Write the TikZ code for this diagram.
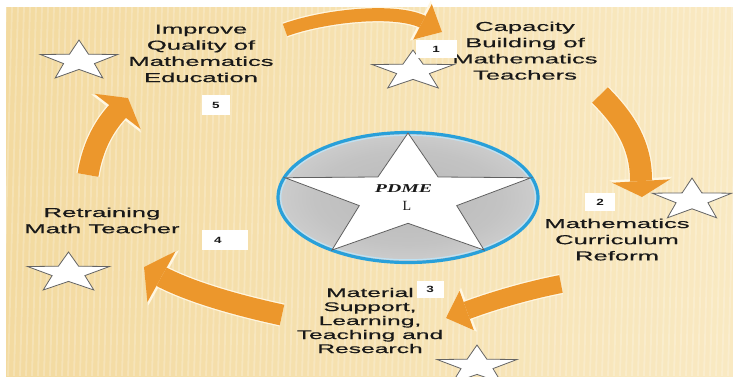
\documentclass[tikz,border=0pt]{standalone}
\usepackage{fontspec}
\usepackage{graphicx}
\setmainfont{Liberation Sans}
\newfontfamily\lblfont[FakeBold=0.35]{Liberation Sans}
\newfontfamily\serifL{Liberation Serif}
\usetikzlibrary{arrows.meta}
\definecolor{bgA}{RGB}{243,218,160}
\definecolor{bgB}{RGB}{249,233,194}
\definecolor{arrOrange}{RGB}{236,151,44}
\definecolor{arrRim}{RGB}{255,247,226}
\definecolor{ringBlue}{RGB}{40,160,218}
\definecolor{starEdge}{RGB}{100,100,100}
\definecolor{txt}{RGB}{25,25,25}
\pgfdeclareradialshading{silver}{\pgfpoint{0bp}{0bp}}{color(0bp)=(gray!55); color(18bp)=(gray!47); color(32bp)=(gray!32); color(44bp)=(gray!12); color(50bp)=(gray!4)}
\newcommand\StarAt[5]{%
  \begin{scope}[shift={(#1,#2)}, xscale=#5]
    \draw[starsty] (-90:#3) -- (-54:#4) -- (-18:#3) -- (18:#4) -- (54:#3) -- (90:#4) -- (126:#3) -- (162:#4) -- (198:#3) -- (234:#4) -- cycle;
  \end{scope}}
\newcommand\StretchText[1]{\scalebox{1.97}[1]{\begin{tabular}[t]{@{}c@{}}#1\end{tabular}}}
\tikzset{
  starsty/.style={fill=white, draw=starEdge, line width=0.8pt, line join=miter},
  lbl/.style={inner sep=0pt, anchor=base, text=txt, font=\lblfont\fontsize{13}{16.2}\selectfont},
  lblsm/.style={inner sep=0pt, anchor=base, text=txt, font=\lblfont\fontsize{12.5}{14}\selectfont},
  numbox/.style={fill=white, inner sep=0pt, minimum height=18pt, text=txt, font=\fontsize{9}{9}\selectfont\bfseries},
  flow/.style n args={3}{draw=arrOrange, line width=#1, -{Triangle[length=#2, width=#3, line width=0pt]}},
  rim/.style n args={3}{draw=arrRim, line width=#1, -{Triangle[length=#2, width=#3, line width=0pt]}},
}
\begin{document}
\begin{tikzpicture}[x=1pt,y=-1pt]
\useasboundingbox (0,0) rectangle (733,376);
% background
\fill[white] (0,0) rectangle (733,376);
\shade[left color=bgA, right color=bgB] (6,7) rectangle (733,376);
\begin{scope}
  \clip (6,7) rectangle (733,376);
  \foreach \i in {0,...,128} \draw[white, opacity=0.22, line width=1.8pt] ({\i*6}, 7) -- ({\i*6-10}, 376);
\end{scope}
% central emblem
\shade[shading=silver] (408,197.5) ellipse [x radius=130, y radius=65];
\draw[ringBlue!30, line width=1.2pt] (408,197.5) ellipse [x radius=127.3, y radius=62.3];
\draw[ringBlue, line width=3.2pt] (408,197.5) ellipse [x radius=130, y radius=65];
\begin{scope}[shift={(408,197.7)}, xscale=2]
  \draw[fill=white, draw=gray!75!black, line width=0.8pt] (-90:64.7) -- (-54:25.6) -- (-18:64.7) -- (18:25.6) -- (54:64.7) -- (90:25.6) -- (126:64.7) -- (162:25.6) -- (198:64.7) -- (234:25.6) -- cycle;
\end{scope}
\node[inner sep=0pt, anchor=base, text=txt] (pdme) at (403.5,192) {\scalebox{1.65}[1]{\serifL\fontsize{12}{12}\selectfont\bfseries\itshape PDME}};
\node[inner sep=0pt, anchor=base, text=txt] (cl) at (407,210) {\serifL\fontsize{14}{14}\selectfont L};
% arrows
\coordinate (a1s) at (285,30); \coordinate (a1b) at (421,21); \coordinate (a1e) at (442,32);
\coordinate (a2s) at (600,95); \coordinate (a2b) at (641,180); \coordinate (a2e) at (642,197);
\coordinate (a3s) at (561,284); \coordinate (a3b) at (468,310); \coordinate (a3e) at (446,318);
\coordinate (a4s) at (282,315); \coordinate (a4b) at (162,277); \coordinate (a4e) at (144,267);
\coordinate (a5s) at (88,175); \coordinate (a5b) at (118,111); \coordinate (a5e) at (128,98);
\draw[rim={15.5pt}{24.5pt}{45pt}] (a1s) .. controls (320,17) and (390,8) .. (a1b) -- (a1e);
\draw[flow={13pt}{22pt}{40pt}] (a1s) .. controls (320,17) and (390,8) .. (a1b) -- (a1e);
\draw[rim={24.5pt}{18.5pt}{63pt}] (a2s) .. controls (625,120) and (641,145) .. (a2b) -- (a2e);
\draw[flow={22pt}{16pt}{58pt}] (a2s) .. controls (625,120) and (641,145) .. (a2b) -- (a2e);
\draw[rim={20.5pt}{24.5pt}{47pt}] (a3s) .. controls (530,290) and (495,300) .. (a3b) -- (a3e);
\draw[flow={18pt}{22pt}{42pt}] (a3s) .. controls (530,290) and (495,300) .. (a3b) -- (a3e);
\draw[rim={23.5pt}{22.5pt}{63pt}] (a4s) .. controls (245,307) and (195,294) .. (a4b) -- (a4e);
\draw[flow={21pt}{20pt}{58pt}] (a4s) .. controls (245,307) and (195,294) .. (a4b) -- (a4e);
\draw[rim={23.5pt}{19.5pt}{63pt}] (a5s) .. controls (92,150) and (102,128) .. (a5b) -- (a5e);
\draw[flow={21pt}{17pt}{58pt}] (a5s) .. controls (92,150) and (102,128) .. (a5b) -- (a5e);
% texts
\node[lbl] (t5) at (201,33.5) {\StretchText{Improve\\Quality of\\Mathematics\\Education}};
\node[lbl] (t1) at (525,31) {\StretchText{Capacity\\Building of\\Mathematics\\Teachers}};
\node[lbl] (t2) at (617,228) {\StretchText{Mathematics\\Curriculum\\Reform}};
\node[lblsm] (t3) at (370,297) {\StretchText{Material\\Support,\\Learning,\\Teaching and\\Research}};
\node[lbl] (t4) at (102,217) {\StretchText{Retraining\\Math Teacher}};
% stars
\StarAt{79}{61}{21}{8.4}{1.93}
\StarAt{413}{71}{21}{8.4}{2.05}
\StarAt{692}{200}{22}{8.8}{1.9}
\StarAt{477}{366}{21}{8.4}{2.0}
\StarAt{68.5}{273}{21}{8.4}{2.05}
% number boxes
\node[numbox, minimum width=28pt, minimum height=20pt] (n5) at (216,105) {\scalebox{1.5}[1]{5}};
\node[numbox, minimum width=41pt] (n1) at (436,49) {\scalebox{1.5}[1]{1}};
\node[numbox, minimum width=30pt] (n2) at (600,202) {\scalebox{1.5}[1]{2}};
\node[numbox, minimum width=27pt, minimum height=17pt] (n3) at (430,289) {\scalebox{1.5}[1]{3}};
\node[numbox, minimum width=46pt, minimum height=20pt] (n4) at (225,240) {\makebox[46pt][l]{\hspace{12pt}\scalebox{1.5}[1]{4}}};
\end{tikzpicture}
\end{document}
